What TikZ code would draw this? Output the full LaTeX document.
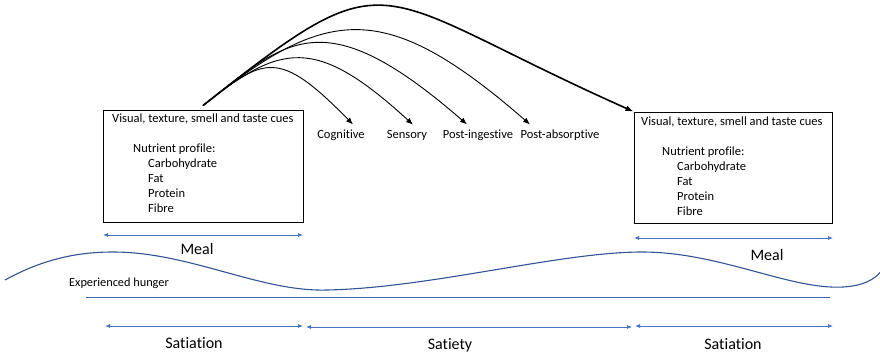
\documentclass[tikz,border=0pt]{standalone}
\usepackage{fontspec}
\setmainfont{Carlito}[Ligatures={NoCommon,NoRare,NoContextual}]
\usetikzlibrary{arrows.meta}
\definecolor{spanblue}{HTML}{4472C4}
\definecolor{waveblue}{HTML}{2F5597}
\definecolor{lineblue}{HTML}{4066B0}
\begin{document}
\begin{tikzpicture}[x=1pt,y=-1pt,
  box/.style={draw=black, line width=0.9pt, minimum height=112pt, inner sep=0pt},
  boxtext/.style={anchor=north west, align=left, inner sep=0pt, font=\fontsize{12.5}{15}\selectfont},
  lbl/.style={font=\fontsize{12.5}{15}\selectfont, inner sep=0pt},
  bigtxt/.style={font=\fontsize{16}{19}\selectfont, inner sep=0pt},
  smalltxt/.style={font=\fontsize{12.3}{14}\selectfont, inner sep=0pt},
  cue/.style={draw=black, line width=0.9pt, -{Latex[length=7pt,width=5.5pt]}},
  bigcue/.style={draw=black, line width=1.6pt, -{Latex[length=8pt,width=6pt]}},
  span/.style={draw=spanblue, line width=0.8pt, {Latex[length=5pt,width=4pt]}-{Latex[length=5pt,width=4pt]}},
]
\useasboundingbox (0,0) rectangle (880,356);

% boxes
\node[box, minimum width=200pt] (box1) at (203,166) {};
\node[box, minimum width=198pt, minimum height=111pt] (box2) at (733,167.5) {};
\node[boxtext] (t1) at (112,114) {Visual, texture, smell and taste cues\\[15pt]
\hspace*{21pt}Nutrient profile:\\
\hspace*{36pt}Carbohydrate\\
\hspace*{36pt}Fat\\
\hspace*{36pt}Protein\\
\hspace*{36pt}Fibre};
\node[boxtext] (t2) at (641,116.5) {Visual, texture, smell and taste cues\\[15pt]
\hspace*{21pt}Nutrient profile:\\
\hspace*{36pt}Carbohydrate\\
\hspace*{36pt}Fat\\
\hspace*{36pt}Protein\\
\hspace*{36pt}Fibre};

% labels
\node[lbl] (cog) at (341,135) {Cognitive};
\node[lbl] (sen) at (407,135) {Sensory};
\node[lbl] (pin) at (478,135) {Post-ingestive};
\node[lbl] (pab) at (560,135) {Post-absorptive};

\coordinate (src) at ([yshift=4pt]box1.north);
\coordinate (cogtip) at ([xshift=12pt,yshift=5pt]cog.north);
\coordinate (sentip) at ([xshift=6pt,yshift=5pt]sen.north);
\coordinate (pintip) at ([xshift=-11pt,yshift=5pt]pin.north);
\coordinate (pabtip) at ([xshift=-30pt,yshift=5pt]pab.north);

\draw[cue] (src) .. controls (264.5,56.8) and (278.2,48.2) .. (cogtip);
\draw[cue] (src) .. controls (280.3,44.2) and (314.4,34.3) .. (sentip);
\draw[cue] (src) .. controls (287.5,38.4) and (323.8,0) .. (pintip);
\draw[cue] (src) .. controls (325.6,7.9) and (382.1,-4.2) .. (pabtip);
\draw[bigcue] (src) .. controls (397,-48) and (365,-8) .. (box2.north west);

% meal spans
\coordinate (m1a) at (103,235);
\coordinate (m1b) at (303,235);
\coordinate (m2a) at (634,238);
\coordinate (m2b) at (833,238);
\draw[span] (m1a) -- (m1b);
\draw[span] (m2a) -- (m2b);
\node[bigtxt] (meal1) at (197,249) {Meal};
\node[bigtxt] (meal2) at (767,255) {Meal};

% hunger wave
\draw[waveblue, line width=1.1pt] (5,280) .. controls (45,258) and (80,252) .. (113,252)
  .. controls (190,252) and (260,292) .. (327,290)
  .. controls (430,288) and (560,252) .. (642,252)
  .. controls (720,252) and (790,290) .. (843,287)
  .. controls (862,286) and (875,280) .. (882,270);
\node[smalltxt] (hunger) at (119,283) {Experienced hunger};
\draw[lineblue, line width=1pt] (86,297) -- (830,297);

% bottom spans
\coordinate (s1a) at (105,326);
\coordinate (s1b) at (303,326);
\coordinate (s2a) at (306,327);
\coordinate (s2b) at (632,327);
\coordinate (s3a) at (635,326);
\coordinate (s3b) at (833,326);
\draw[span] (s1a) -- (s1b);
\draw[span] (s2a) -- (s2b);
\draw[span] (s3a) -- (s3b);
\node[bigtxt] (sat1) at (194,343) {Satiation};
\node[bigtxt] (saty) at (450,345) {Satiety};
\node[bigtxt] (sat2) at (733,344) {Satiation};
\end{tikzpicture}
\end{document}
